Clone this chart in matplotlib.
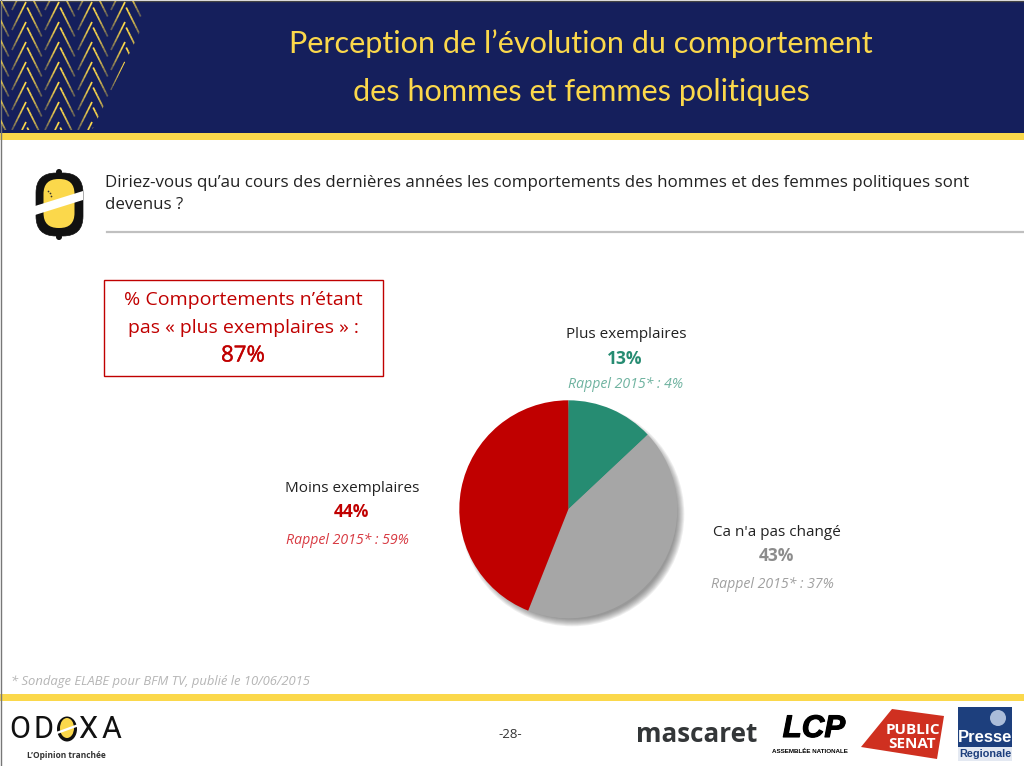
import matplotlib
matplotlib.use("Agg")
import matplotlib.pyplot as plt
from matplotlib.patches import Rectangle, Circle, Ellipse, FancyBboxPatch, Polygon
import matplotlib.patheffects as pe

plt.rcParams['font.family'] = ['Open Sans', 'DejaVu Sans']

# pie data
categories = ["Plus exemplaires", "Ca n'a pas changé", "Moins exemplaires"]
values = [13, 43, 44]
rappel_2015 = [4, 37, 59]
colors = ["#268c72", "#a6a6a6", "#c00000"]
rappel_colors = ["#6fb3a0", "#a0a0a0", "#d83a42"]
value_colors = ["#268c72", "#8c8c8c", "#c00000"]
label_x = [626, 777, 352]
label_y = [334, 531, 487]
rappel_x = [626, 772, 347]
rappel_y = [384, 584, 540]

NAVY = "#151f5c"
YELLOW = "#fbd84b"
W, H = 1024, 766

fig = plt.figure(figsize=(W / 100, H / 100), dpi=100, facecolor="white")

# full page canvas in pixels
bg = fig.add_axes([0, 0, 1, 1])
bg.set_xlim(0, W)
bg.set_ylim(H, 0)
bg.axis("off")

# header
bg.add_patch(Rectangle((0, 1), W, 132, color=NAVY, lw=0))
bg.add_patch(Rectangle((0, 133), W, 6.5, color=YELLOW, lw=0))
bg.add_patch(Rectangle((0, 694), W, 6.5, color=YELLOW, lw=0))
bg.plot([0, W], [0.5, 0.5], color="#444444", lw=1)
bg.plot([0.5, 0.5], [0, H], color="#777777", lw=1)

# chevron pattern in the header corner, clipped on the diagonal
clip = Polygon([(1, 1), (155, 1), (92, 130), (1, 130)], transform=bg.transData)
n_seg = 7
for ax_x in [-6.5, 26.5, 59.5, 92.5, 125.5]:
    for row in range(-2, 7):
        for dx, dy, y_start, off in [(-14, 28, 2, -0.5), (14.5, 29, 7.5, 0.7)]:
            for s in range(n_seg):
                t0, t1 = s / n_seg, (s + 1) / n_seg
                y_top = y_start + row * 20
                line, = bg.plot([ax_x + off + dx * t0, ax_x + off + dx * t1],
                                [y_top + dy * t0, y_top + dy * t1],
                                color=YELLOW, lw=1.25, alpha=1.0 - 0.8 * t0 ** 1.5,
                                solid_capstyle="butt")
                line.set_clip_path(clip)

bg.text(581, 44, "Perception de l’évolution du comportement", color=YELLOW,
        fontsize=22.1, ha="center", va="center", family="Lato")
bg.text(581, 92, "des hommes et femmes politiques", color=YELLOW,
        fontsize=22.1, ha="center", va="center", family="Lato")

# question icon
bg.add_patch(FancyBboxPatch((36, 173), 47, 63, boxstyle="round,pad=0,rounding_size=20",
                            fc="#111111", ec="#111111", lw=0.5))
bg.add_patch(Circle((59, 172), 3, fc="#111111", ec="none"))
bg.add_patch(Circle((59, 237), 3, fc="#111111", ec="none"))
bg.add_patch(FancyBboxPatch((43.5, 179), 31, 49, boxstyle="round,pad=0,rounding_size=15",
                            fc=YELLOW, ec="none"))
bg.add_patch(Polygon([(35, 206), (83, 191), (83, 200), (35, 215)], fc="white", ec="none"))
bg.scatter([48, 50, 51], [191, 193, 196], s=1.5, color="#333333", lw=0)

bg.text(105, 183, "Diriez-vous qu’au cours des dernières années les comportements des hommes et des femmes politiques sont",
        fontsize=12.17, color="#222222", ha="left", va="center")
bg.text(105, 205, "devenus ?", fontsize=12.17, color="#222222", ha="left", va="center")
bg.plot([107, W], [231.5, 231.5], color="#c0c0c0", lw=1.6)

# red box
bg.add_patch(Rectangle((103.5, 279.5), 279, 96, fc="white", ec="#c00000", lw=1))
bg.text(243, 300, "% Comportements n’étant", fontsize=14, color="#c00000", ha="center", va="center")
bg.text(243, 328, "pas « plus exemplaires » :", fontsize=14, color="#c00000", ha="center", va="center")
bg.text(243, 356, "87%", fontsize=16, color="#c00000", ha="center", va="center",
        path_effects=[pe.withStroke(linewidth=0.3, foreground="#c00000")])

# pie shadow
cx, cy, r = 568.3, 509.3, 109
for i in range(8):
    bg.add_patch(Circle((cx + 4, cy + 5), r + 3 - i, fc="#444444", ec="none", alpha=0.09))

# pie
pie_ax = fig.add_axes([(cx - r) / W, 1 - (cy + r) / H, 2 * r / W, 2 * r / H])
pie_ax.pie(values, colors=colors, startangle=90, counterclock=False, radius=1)
pie_ax.set_xlim(-1, 1)
pie_ax.set_ylim(-1, 1)

# pie labels
for name, val, old, vc, rc, x, y, rx, ry in zip(categories, values, rappel_2015, value_colors,
                                                rappel_colors, label_x, label_y, rappel_x, rappel_y):
    bg.text(x, y + 1, name, fontsize=11, color="#222222", ha="center", va="center")
    bg.text(x - 1, y + 25, f"{val}%", fontsize=12.5, fontweight="bold", color=vc, ha="center", va="center")
    bg.text(rx, ry, f"Rappel 2015* : {old}%", fontsize=10.2,
            style="italic", color=rc, ha="center", va="center")

# footnote and page number
bg.text(11, 681, "* Sondage ELABE pour BFM TV, publié le 10/06/2015", fontsize=9.37,
        style="italic", color="#b5b5b5", ha="left", va="center")
bg.text(510, 735, "-28-", fontsize=9.5, color="#333333", ha="center", va="center")

# footer logos
for letter, x in zip("ODXA", [20, 43, 88, 112]):
    bg.text(x, 729, letter, fontsize=22, color="#111111", ha="center", va="center", family="Roboto")
bg.add_patch(Ellipse((67, 729), 20, 25, fc="#111111", ec="none"))
bg.add_patch(Ellipse((67, 728), 14, 20, fc=YELLOW, ec="none"))
bg.add_patch(Polygon([(56, 732), (78, 724), (78, 726.5), (56, 734.5)], fc="white", ec="none"))
bg.text(66, 755, "L’Opinion tranchée", fontsize=6, fontweight="bold", color="#333333",
        ha="center", va="center")
bg.text(697, 734, "mascaret", fontsize=18.7, fontweight="bold", color="#333638", ha="center", va="center")
bg.text(814, 729, "LCP", fontsize=22.5, fontweight="bold", style="italic", color="black",
        ha="center", va="center", family="Liberation Sans",
        path_effects=[pe.withStroke(linewidth=0.8, foreground="black")])
bg.text(810, 751, "ASSEMBLÉE NATIONALE", fontsize=4.5, fontweight="bold", color="black",
        ha="center", va="center", family="Liberation Sans")
bg.add_patch(Polygon([(861, 747), (892, 709), (944, 716), (937, 759)], fc="#cf3020", ec="none"))
bg.text(913, 730, "PUBLIC", fontsize=11, fontweight="bold", color="white", ha="center", va="center")
bg.text(912, 744, "SENAT", fontsize=11, fontweight="bold", color="white", ha="center", va="center")
bg.add_patch(Rectangle((958, 707), 54, 54, fc="#e4e9f2", ec="none"))
bg.add_patch(Rectangle((958, 707), 54, 40, fc="#1d3f7d", ec="none"))
bg.add_patch(Circle((998, 718), 8, fc="#c5d3ea", ec="none", alpha=0.85))
bg.text(985, 737, "Presse", fontsize=12, fontweight="bold", color="white", ha="center", va="center",
        family="Liberation Sans")
bg.text(985, 754, "Regionale", fontsize=7.8, fontweight="bold", color="#1d3f7d",
        ha="center", va="center", family="Liberation Sans")

fig.savefig("out.png", dpi=100, facecolor="white")
